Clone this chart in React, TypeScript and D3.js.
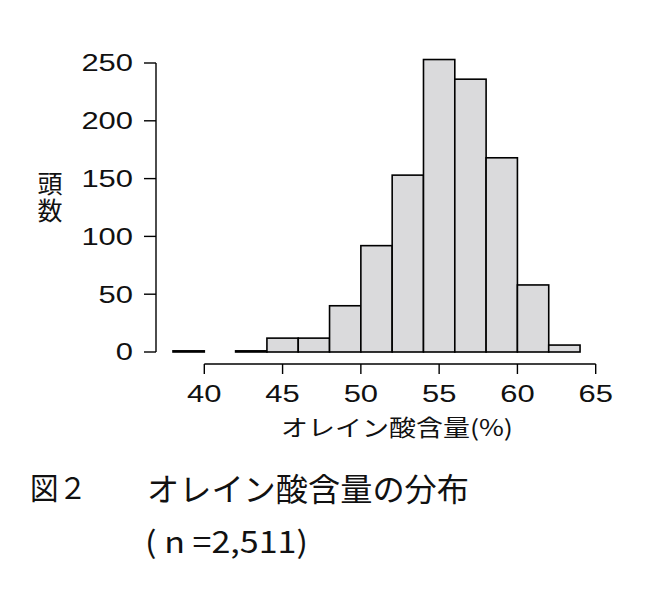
import React from "react";
import * as d3 from "d3";

const binStarts = [38, 40, 42, 44, 46, 48, 50, 52, 54, 56, 58, 60, 62];
const binWidth = 2;
const counts = [1, 0, 1, 12, 12, 40, 92, 153, 253, 236, 168, 58, 6];
const xTicks = [40, 45, 50, 55, 60, 65];
const yTicks = [0, 50, 100, 150, 200, 250];

const xTitle = "オレイン酸含量(%)";
const yTitle = "頭数";
const captionFig = "図２";
const captionMain = "オレイン酸含量の分布";
const captionN = "( n =2,511)";

const latin = "'Liberation Sans', Arial, Helvetica, sans-serif";
const cjk = "'Noto Sans CJK JP', 'Noto Sans', sans-serif";

export default function App() {
  const x = d3.scaleLinear().domain([40, 65]).range([204.3, 595.7]);
  const y = d3.scaleLinear().domain([0, 250]).range([352, 63]);
  const axisY = 364;
  const axisX = 156;
  const digitW = 17.2;
  return (
    <svg width={650} height={592} style={{ position: "absolute", left: 0, top: 0, background: "#fff" }}>
      {binStarts.map((b, i) =>
        counts[i] > 0 ? (
          <rect
            key={b}
            x={x(b)}
            y={y(counts[i])}
            width={x(b + binWidth) - x(b)}
            height={y(0) - y(counts[i])}
            fill="#dadadc"
            stroke="#000"
            strokeWidth={1.6}
          />
        ) : null
      )}
      {/* y axis */}
      <line x1={axisX} x2={axisX} y1={y(0)} y2={y(250)} stroke="#000" strokeWidth={1.4} />
      {yTicks.map((t) => (
        <g key={t}>
          <line x1={axisX - 12} x2={axisX} y1={y(t)} y2={y(t)} stroke="#000" strokeWidth={1.4} />
          <text
            x={133}
            y={y(t)}
            dy="0.36em"
            textAnchor="end"
            fontFamily={latin}
            fontSize={23.5}
            fill="#111"
            textLength={String(t).length * digitW}
            lengthAdjust="spacingAndGlyphs"
          >
            {t}
          </text>
        </g>
      ))}
      {/* x axis */}
      <line x1={x(40)} x2={x(65)} y1={axisY} y2={axisY} stroke="#000" strokeWidth={1.4} />
      {xTicks.map((t) => (
        <g key={t}>
          <line x1={x(t)} x2={x(t)} y1={axisY} y2={axisY + 10} stroke="#000" strokeWidth={1.4} />
          <text
            x={x(t)}
            y={402}
            textAnchor="middle"
            fontFamily={latin}
            fontSize={23.5}
            fill="#111"
            textLength={String(t).length * digitW}
            lengthAdjust="spacingAndGlyphs"
          >
            {t}
          </text>
        </g>
      ))}
      <text x={281} y={436} fontFamily={cjk} fontSize={22.5} fill="#111" textLength={232} lengthAdjust="spacingAndGlyphs">
        {xTitle}
      </text>
      <text
        x={50}
        y={171}
        fontFamily={cjk}
        fontSize={25}
        fill="#111"
        style={{ writingMode: "vertical-rl" } as React.CSSProperties}
        letterSpacing={2}
      >
        {yTitle}
      </text>
      <text x={30} y={499} fontFamily={cjk} fontSize={30} fill="#111" textLength={57} lengthAdjust="spacingAndGlyphs">
        {captionFig}
      </text>
      <text x={147} y={501} fontFamily={cjk} fontSize={32} fill="#111" textLength={322} lengthAdjust="spacingAndGlyphs">
        {captionMain}
      </text>
      <text x={145} y={553} fontFamily={cjk} fontSize={30} fill="#111" textLength={163} lengthAdjust="spacingAndGlyphs">
        {captionN}
      </text>
    </svg>
  );
}
